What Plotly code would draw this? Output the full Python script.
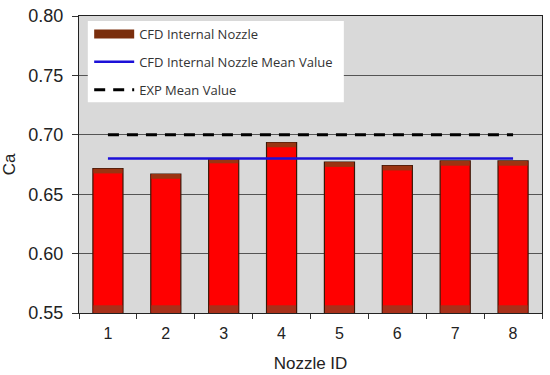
import plotly.graph_objects as go

nozzle_ids = ["1", "2", "3", "4", "5", "6", "7", "8"]
cfd_ca = [0.6715, 0.667, 0.680, 0.6935, 0.677, 0.674, 0.678, 0.678]
cfd_mean = 0.680
exp_mean = 0.700
y_ticks = [0.55, 0.60, 0.65, 0.70, 0.75, 0.80]

fig = go.Figure()

# main bar (red)
fig.add_trace(go.Bar(
    x=nozzle_ids, y=[v - 0.55 for v in cfd_ca], base=0.55,
    marker=dict(color="#ff0000", line=dict(color="#3a1808", width=1.2)),
    width=0.52, showlegend=False, hoverinfo="skip"))
# brown top band
band = 0.004
fig.add_trace(go.Bar(
    x=nozzle_ids, y=[band] * len(cfd_ca), base=[v - band for v in cfd_ca],
    marker=dict(color="#9a3412", line=dict(width=0)),
    width=0.50, showlegend=False, hoverinfo="skip"))
# brown bottom band
fig.add_trace(go.Bar(
    x=nozzle_ids, y=[0.0065] * len(cfd_ca), base=0.55,
    marker=dict(color="#a8301a", line=dict(width=0)),
    width=0.50, showlegend=False, hoverinfo="skip"))

# legend swatch for bars (thick line looks like a rectangle)
fig.add_trace(go.Scatter(
    x=[None], y=[None], mode="lines", name="CFD Internal Nozzle",
    legendgroup="a",
    line=dict(color="#7a2e0c", width=9)))
fig.add_trace(go.Scatter(
    x=nozzle_ids, y=[cfd_mean] * len(nozzle_ids), mode="lines",
    name="CFD Internal Nozzle Mean Value", legendgroup="b",
    line=dict(color="#1c10d8", width=2.5)))
fig.add_trace(go.Scatter(
    x=nozzle_ids, y=[exp_mean] * len(nozzle_ids), mode="lines",
    name="EXP Mean Value", legendgroup="c",
    line=dict(color="#000000", width=3, dash="11px,8px")))

fig.update_layout(
    width=550, height=375,
    margin=dict(l=79, r=8, t=16, b=62),
    paper_bgcolor="white", plot_bgcolor="#d9d9d9",
    barmode="overlay", bargap=0.48,
    font=dict(family="Liberation Sans, Arial, sans-serif", color="#222"),
    showlegend=True,
    legend=dict(x=0.022, y=0.99, xanchor="left", yanchor="top",
                bgcolor="rgba(0,0,0,0)", borderwidth=0,
                font=dict(family="Open Sans, sans-serif", size=13, color="#333"),
                tracegroupgap=8, itemwidth=40),
    shapes=[dict(type="rect", xref="paper", yref="paper",
                 x0=0.019, x1=0.572, y0=0.71, y1=0.983,
                 fillcolor="white", line=dict(width=0), layer="above")],
    xaxis=dict(type="category", range=[-0.5, 7.5], automargin=False,
               showline=True, linecolor="#222", linewidth=1, mirror=True,
               ticks="outside", tickson="boundaries", ticklen=5, tickcolor="#333",
               tickfont=dict(size=16), showgrid=False, ticklabelstandoff=6,
               title=dict(text="Nozzle ID", font=dict(size=17))),
    yaxis=dict(range=[0.55, 0.80], tickvals=y_ticks, automargin=False,
               ticktext=[f"{v:.2f}" for v in y_ticks],
               showline=True, linecolor="#222", linewidth=1, mirror=True,
               ticks="outside", ticklen=6, tickcolor="#333", ticklabelstandoff=5,
               tickfont=dict(size=18), showgrid=True, gridcolor="#555", gridwidth=1,
               zeroline=False,
               title=dict(text="Ca", font=dict(size=17))),
)

fig.write_html("out.html", config={"displayModeBar": False},
               post_script="document.body.style.margin='0px';")
